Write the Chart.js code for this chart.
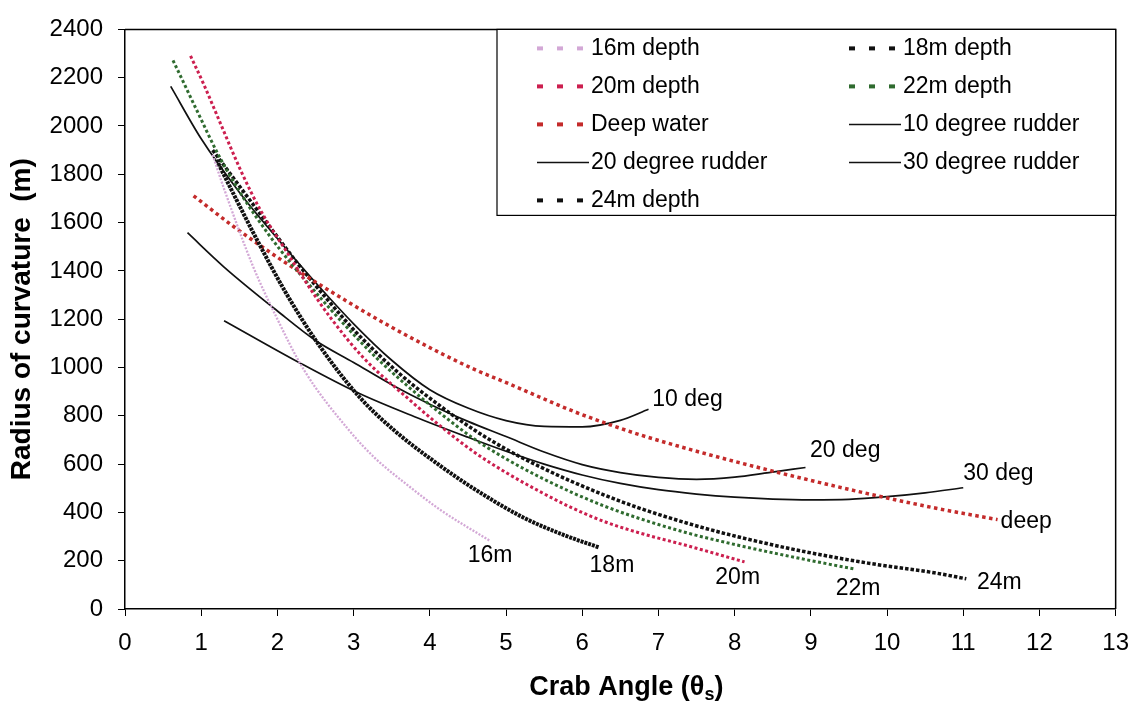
<!DOCTYPE html>
<html>
<head>
<meta charset="utf-8">
<title>Radius of curvature vs crab angle</title>
<script src="https://cdn.jsdelivr.net/npm/chart.js@4.4.1/dist/chart.umd.min.js"></script>
<style>
  html, body { margin: 0; padding: 0; background: #fff; }
  #wrap { width: 1142px; height: 701px; position: relative; }
</style>
</head>
<body>
<div id="wrap"><canvas id="crabChart"></canvas></div>
<script>
// ---- values ----
// crab angle (x) and radius of curvature (y) per curve
const depth16X = [1.15, 1.30, 1.68, 1.98, 2.35, 2.94, 3.28, 3.70, 4.14, 4.79];
const depth16Y = [1880, 1740, 1419, 1213, 989, 740, 625, 515, 410, 282];

const depth18X = [1.20, 1.43, 1.73, 2.11, 2.53, 3.07, 3.55, 4.15, 4.57, 5.22, 5.77, 6.22];
const depth18Y = [1860, 1715, 1530, 1310, 1100, 880, 735, 590, 500, 380, 305, 255];

const depth20X = [0.86, 1.03, 1.24, 1.52, 1.78, 2.12, 2.37, 2.70, 3.13, 3.72, 4.16, 4.58, 5.00, 5.44, 5.87, 6.29, 6.73, 7.38, 8.13];
const depth20Y = [2290, 2175, 2020, 1815, 1650, 1480, 1355, 1205, 1040, 870, 752, 650, 565, 487, 418, 362, 317, 262, 195];

const depth22X = [0.63, 0.98, 1.21, 1.49, 1.74, 2.03, 2.37, 2.70, 3.05, 3.30, 3.72, 4.16, 4.58, 5.01, 5.44, 5.87, 6.30, 6.73, 7.38, 8.03, 8.88, 9.58];
const depth22Y = [2272, 2040, 1890, 1735, 1615, 1490, 1360, 1240, 1120, 1040, 920, 805, 705, 620, 547, 482, 425, 377, 315, 265, 208, 165];

const depth24X = [1.15, 1.99, 2.28, 2.70, 3.05, 3.60, 4.16, 4.58, 5.01, 5.44, 5.87, 6.29, 6.73, 7.38, 8.03, 8.88, 9.75, 10.62, 11.04];
const depth24Y = [1900, 1545, 1425, 1265, 1140, 975, 835, 742, 660, 590, 527, 472, 420, 355, 300, 240, 190, 150, 125];

const deepX = [0.90, 1.42, 2.12, 2.96, 3.48, 4.17, 4.60, 5.02, 5.46, 5.89, 6.32, 6.75, 7.40, 8.05, 8.90, 9.77, 10.63, 11.45];
const deepY = [1711, 1585, 1431, 1265, 1170, 1055, 990, 935, 875, 818, 768, 722, 662, 607, 540, 476, 418, 370];

const rudder10X = [0.60, 1.0, 1.5, 2.0, 2.5, 3.0, 3.5, 4.0, 4.5, 5.0, 5.5, 6.0, 6.5, 6.87];
const rudder10Y = [2164, 1947, 1726, 1534, 1352, 1181, 1030, 908, 832, 780, 756, 754, 781, 827];

const rudder20X = [0.82, 1.3, 2.0, 2.5, 3.0, 3.5, 4.0, 4.5, 5.0, 5.5, 6.0, 6.5, 7.0, 7.5, 8.0, 8.45, 8.93];
const rudder20Y = [1558, 1416, 1234, 1112, 1021, 929, 848, 777, 714, 650, 598, 565, 545, 537, 546, 565, 586];

const rudder30X = [1.3, 2.3, 3.07, 3.8, 4.5, 5.0, 5.5, 6.0, 6.5, 7.0, 7.5, 8.0, 8.5, 9.0, 9.5, 10.0, 10.5, 11.0];
const rudder30Y = [1194, 1018, 893, 796, 711, 653, 600, 555, 520, 494, 476, 463, 455, 452, 454, 465, 481, 502];

// axis ranges
const xMin = 0, xMax = 13, xStep = 1;
const yMin = 0, yMax = 2400, yStep = 200;

// text written next to the curve ends (data coordinates)
const curveLabelText = ["10 deg", "20 deg", "30 deg", "deep", "16m", "18m", "20m", "22m", "24m"];
const curveLabelX = [6.92, 8.99, 11.0, 11.49, 4.79, 6.39, 8.04, 9.62, 11.18];
const curveLabelY = [865, 656, 560, 360, 221, 179, 131, 86, 109];
const curveLabelAlign = ["left", "left", "left", "left", "center", "center", "center", "center", "left"];

// helper:: zip two arrays to chart points
function toPoints(xs, ys) {
  return xs.map((x, i) => ({ x: x, y: ys[i] }));
}

const FONT = "'Liberation Sans', Arial, sans-serif";
Chart.defaults.font.family = FONT;
Chart.defaults.color = "#000";

// dotted curve style
function dotted(label, xs, ys, color, width, dash) {
  return {
    label: label,
    data: toPoints(xs, ys),
    borderColor: color,
    backgroundColor: color,
    borderWidth: width,
    borderDash: dash,
    showLine: true,
    pointRadius: 0,
    cubicInterpolationMode: "monotone",
  };
}

// solid curve style
function solid(label, xs, ys) {
  return {
    label: label,
    data: toPoints(xs, ys),
    borderColor: "#111",
    backgroundColor: "#111",
    borderWidth: 1.7,
    showLine: true,
    pointRadius: 0,
    cubicInterpolationMode: "monotone",
  };
}

// order follows the legend (row by row, two columns)
const datasets = [
  dotted("16m depth", depth16X, depth16Y, "#d3a8d6", 2.3, [2, 1.5]),
  dotted("18m depth", depth18X, depth18Y, "#111", 4, [3, 1]),
  dotted("20m depth", depth20X, depth20Y, "#cc1f4f", 3, [3, 2.5]),
  dotted("22m depth", depth22X, depth22Y, "#2f6b2f", 3, [3, 2.5]),
  dotted("Deep water", deepX, deepY, "#c42b2b", 3.5, [3.5, 3.5]),
  solid("10 degree rudder", rudder10X, rudder10Y),
  solid("20 degree rudder", rudder20X, rudder20Y),
  solid("30 degree rudder", rudder30X, rudder30Y),
  dotted("24m depth", depth24X, depth24Y, "#111", 3.5, [3.5, 2]),
];

// plugin:: frame, boxed legend and curve labels
const decorations = {
  id: "decorations",
  afterDatasetsDraw(chart) {
    const { ctx, chartArea } = chart;
    const sx = chart.scales.x;
    const sy = chart.scales.y;

    ctx.save();

    // top and right border of the plot
    ctx.strokeStyle = "#000";
    ctx.lineWidth = 1.5;
    ctx.beginPath();
    ctx.moveTo(chartArea.left, chartArea.top);
    ctx.lineTo(chartArea.right, chartArea.top);
    ctx.lineTo(chartArea.right, chartArea.bottom);
    ctx.stroke();

    // curve end labels
    ctx.fillStyle = "#000";
    ctx.font = "23px " + FONT;
    ctx.textBaseline = "middle";
    curveLabelText.forEach((txt, i) => {
      ctx.textAlign = curveLabelAlign[i];
      ctx.fillText(txt, sx.getPixelForValue(curveLabelX[i]), sy.getPixelForValue(curveLabelY[i]));
    });

    // legend box
    const boxLeft = chartArea.left + 372;
    const boxTop = chartArea.top;
    const boxW = chartArea.right - boxLeft;
    const boxH = 186;
    ctx.fillStyle = "#fff";
    ctx.fillRect(boxLeft, boxTop, boxW, boxH);
    ctx.lineWidth = 1.2;
    ctx.strokeRect(boxLeft, boxTop, boxW, boxH);

    ctx.textAlign = "left";
    chart.data.datasets.forEach((ds, i) => {
      const col = i % 2;
      const row = Math.floor(i / 2);
      const base = boxLeft + (col === 0 ? 0 : 312);
      const y = boxTop + 19 + row * 38;

      if (ds.borderDash) {
        ctx.fillStyle = ds.borderColor;
        for (let k = 0; k < 3; k++) {
          ctx.fillRect(base + 40 + k * 20, y - 2, 6, 4);
        }
      } else {
        ctx.strokeStyle = ds.borderColor;
        ctx.lineWidth = 1.5;
        ctx.beginPath();
        ctx.moveTo(base + 40, y);
        ctx.lineTo(base + 92, y);
        ctx.stroke();
      }

      ctx.fillStyle = "#000";
      ctx.fillText(ds.label, base + 94, y);
    });

    ctx.restore();
  },

  // x title with subscript s
  afterDraw(chart) {
    const { ctx, chartArea } = chart;
    const main = "Crab Angle (\u03b8";
    const sub = "s";
    const tail = ")";
    ctx.save();
    ctx.fillStyle = "#000";
    ctx.textBaseline = "alphabetic";
    ctx.textAlign = "left";
    const bigFont = "bold 27px " + FONT;
    const smallFont = "bold 18px " + FONT;
    ctx.font = bigFont;
    const w1 = ctx.measureText(main).width;
    const w3 = ctx.measureText(tail).width;
    ctx.font = smallFont;
    const w2 = ctx.measureText(sub).width;
    const total = w1 + w2 + w3;
    let x = (chartArea.left + chartArea.right) / 2 + 6 - total / 2;
    const base = 695;
    ctx.font = bigFont;
    ctx.fillText(main, x, base);
    x += w1;
    ctx.font = smallFont;
    ctx.fillText(sub, x, base + 5);
    x += w2;
    ctx.font = bigFont;
    ctx.fillText(tail, x, base);
    ctx.restore();
  },
};

new Chart(document.getElementById("crabChart"), {
  type: "scatter",
  data: { datasets },
  options: {
    responsive: true,
    maintainAspectRatio: false,
    animation: false,
    layout: { padding: { left: 0, top: 24, right: 15, bottom: 0 } },
    plugins: {
      legend: { display: false },
      tooltip: { enabled: false },
    },
    scales: {
      x: {
        type: "linear",
        min: xMin,
        max: xMax,
        afterFit: (scale) => { scale.height = 92; },
        ticks: {
          stepSize: xStep,
          autoSkip: false,
          maxRotation: 0,
          padding: 13,
          color: "#000",
          font: { size: 24 },
          callback: (value) => String(value),
        },
        grid: { drawOnChartArea: false, drawTicks: true, tickLength: 7, color: "#000", lineWidth: 1 },
        border: { display: true, color: "#000", width: 1.5 },
        title: { display: false },
      },
      y: {
        type: "linear",
        min: yMin,
        max: yMax,
        afterFit: (scale) => { scale.width = 125; },
        ticks: {
          stepSize: yStep,
          autoSkip: false,
          padding: 15,
          color: "#000",
          font: { size: 24 },
          callback: (value) => String(value),
        },
        grid: { drawOnChartArea: false, drawTicks: true, tickLength: 7, color: "#000", lineWidth: 1 },
        border: { display: true, color: "#000", width: 1.5 },
        title: {
          display: true,
          text: "Radius of curvature  (m)",
          color: "#000",
          font: { size: 28, weight: "bold" },
          padding: { top: 5, bottom: 0 },
        },
      },
    },
  },
  plugins: [decorations],
});
</script>
</body>
</html>
